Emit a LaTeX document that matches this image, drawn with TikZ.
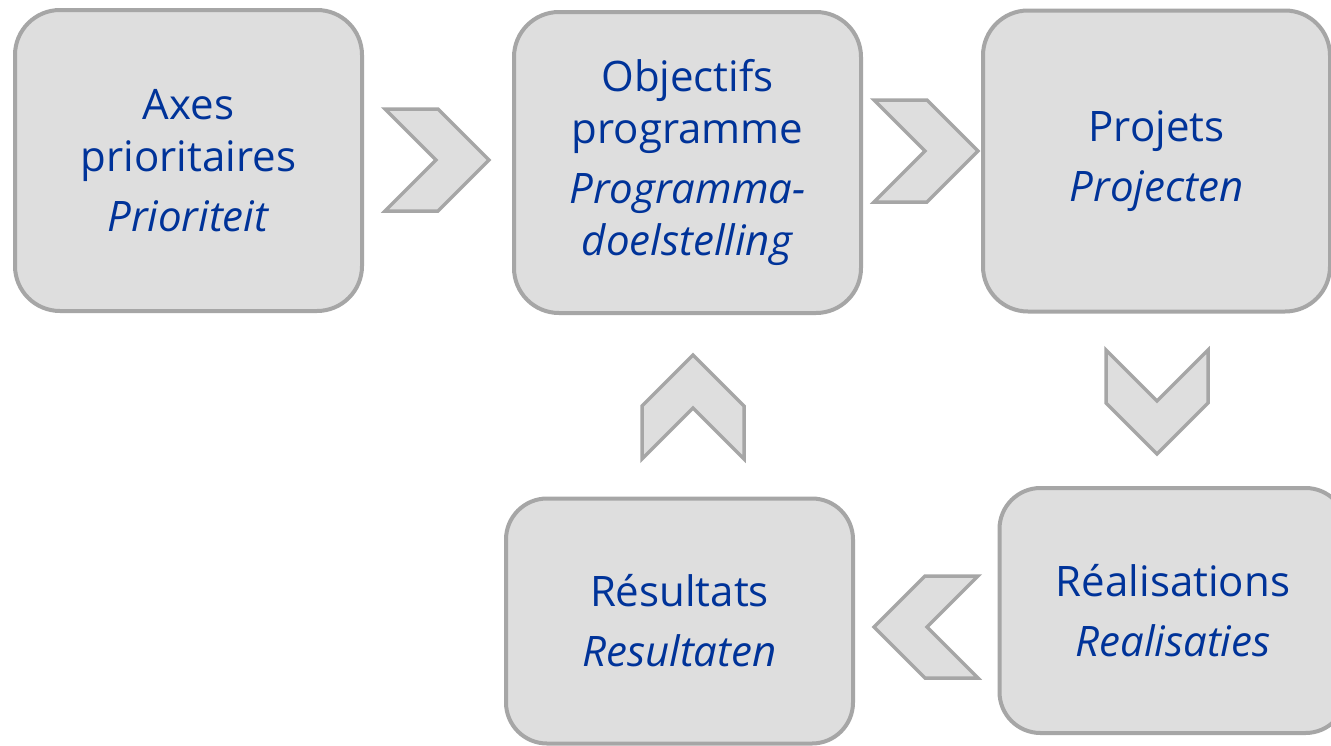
\documentclass[tikz,border=0pt]{standalone}
\usepackage{fontspec}
\setmainfont{Open Sans}
\usetikzlibrary{positioning,calc}
\definecolor{BoxFill}{RGB}{222,222,222}
\definecolor{BoxLine}{RGB}{166,166,166}
\definecolor{TextBlue}{RGB}{0,51,153}
\tikzset{
  box/.style={draw=BoxLine,fill=BoxFill,line width=4pt,rounded corners=45pt,
    minimum width=347pt,minimum height=301pt,inner sep=0pt,align=center,
    text=TextBlue,font=\fontsize{42}{52}\selectfont},
  lowbox/.style={box,minimum height=245pt,rounded corners=41pt},
  chev/.style={draw=BoxLine,fill=BoxFill,line width=3.5pt,line join=miter},
}
\tikzset{chevron/.pic={\path[chev] (-52,-51)--(1,-51)--(52,0)--(1,51)--(-52,51)--(-1,0)--cycle;}}

\begin{document}
\begin{tikzpicture}[x=1pt,y=-1pt]
\useasboundingbox (0,0) rectangle (1331,745);
\fill[white] (0,0) rectangle (1331,745);
\coordinate (c1) at (437,160);
\coordinate (c2) at (926,151);
\coordinate (c3) at (1157,402);
\coordinate (c4) at (926,627);
\coordinate (c5) at (693,407);
\node[box] (axes) at (188.5,160.5) {Axes\\prioritaires\\[8pt]\textit{Prioriteit}};
\node[box] (objectifs) at (687.5,162.5) {Objectifs\\programme\\[8pt]\textit{Programma-}\\\textit{doelstelling}};
\node[box] (projets) at (1156.5,161) {Projets\\[8pt]\textit{Projecten}};
\node[lowbox] (realisations) at (1173,610.5) {Réalisations\\[8pt]\textit{Realisaties}};
\node[lowbox] (resultats) at (679.5,621) {Résultats\\[8pt]\textit{Resultaten}};
\pic at (c1) {chevron};
\pic at (c2) {chevron};
\pic[rotate=-90] at (c3) {chevron};
\pic[rotate=180] at (c4) {chevron};
\pic[rotate=90] at (c5) {chevron};
\end{tikzpicture}
\end{document}
